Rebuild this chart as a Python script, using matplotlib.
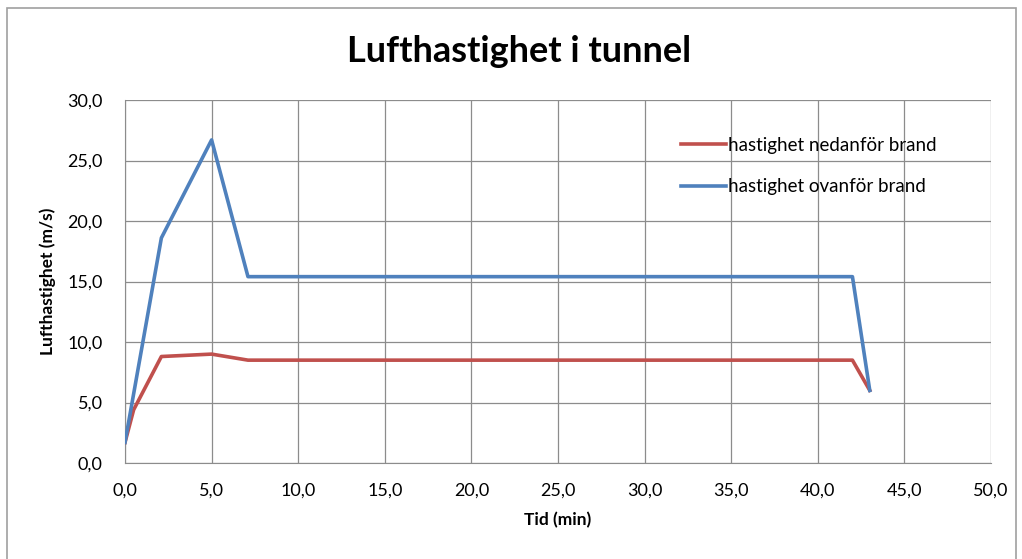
import matplotlib
matplotlib.use("Agg")
import matplotlib.pyplot as plt
from matplotlib.ticker import FuncFormatter, MultipleLocator
from matplotlib.patches import Rectangle

plt.rcParams['font.family'] = ['Lato', 'DejaVu Sans']

# Time (min) and air velocity (m/s)
tid_ned = [0.0, 0.5, 2.1, 5.0, 7.1, 42.0, 43.0]
hast_ned = [1.7, 4.4, 8.8, 9.0, 8.5, 8.5, 6.0]
tid_ovan = [0.0, 2.1, 5.0, 7.1, 42.0, 43.0]
hast_ovan = [1.7, 18.6, 26.7, 15.4, 15.4, 6.0]

W, H = 1022, 559
fig = plt.figure(figsize=(W / 100, H / 100), dpi=100)
ax = fig.add_axes([125 / W, 1 - 463 / H, (991 - 125) / W, (463 - 100) / H])

ax.plot(tid_ned, hast_ned, color='#C0504D', lw=2.6, label='hastighet nedanför brand',
        solid_joinstyle='round', zorder=3)
ax.plot(tid_ovan, hast_ovan, color='#4F81BD', lw=2.6, label='hastighet ovanför brand',
        solid_joinstyle='round', zorder=3)

ax.set_xlim(0, 50)
ax.set_ylim(0, 30)
ax.xaxis.set_major_locator(MultipleLocator(5))
ax.yaxis.set_major_locator(MultipleLocator(5))
fmt = FuncFormatter(lambda v, p: f"{v:.1f}".replace('.', ','))
ax.xaxis.set_major_formatter(fmt)
ax.yaxis.set_major_formatter(fmt)
ax.grid(True, color='#8c8c8c', lw=0.9)
ax.set_axisbelow(True)
for s in ['top', 'right']:
    ax.spines[s].set_visible(False)
for s in ['left', 'bottom']:
    ax.spines[s].set_color('#8c8c8c')
ax.tick_params(axis='both', length=0, labelsize=13)
ax.tick_params(axis='x', pad=14)
ax.tick_params(axis='y', pad=16)

ax.set_xlabel('Tid (min)', fontsize=12.5, fontweight='bold', labelpad=10)
ax.set_ylabel('Lufthastighet (m/s)', fontsize=12.5, fontweight='bold', labelpad=8)
fig.text(519 / W, 1 - 51 / H, 'Lufthastighet i tunnel', ha='center', va='center',
         fontsize=26, fontweight='bold')

leg = ax.legend(loc='upper left', bbox_to_anchor=(0.622, 0.945), frameon=False,
                fontsize=13.5, handlelength=2.4, handletextpad=0.15, labelspacing=1.3)

fig.patches.append(Rectangle((7 / W, -0.02), (1016 - 7) / W, 1 - 8 / H + 0.02,
                             transform=fig.transFigure, fill=False,
                             edgecolor='#a0a0a0', lw=1.2))

fig.savefig('out.png', dpi=100)
